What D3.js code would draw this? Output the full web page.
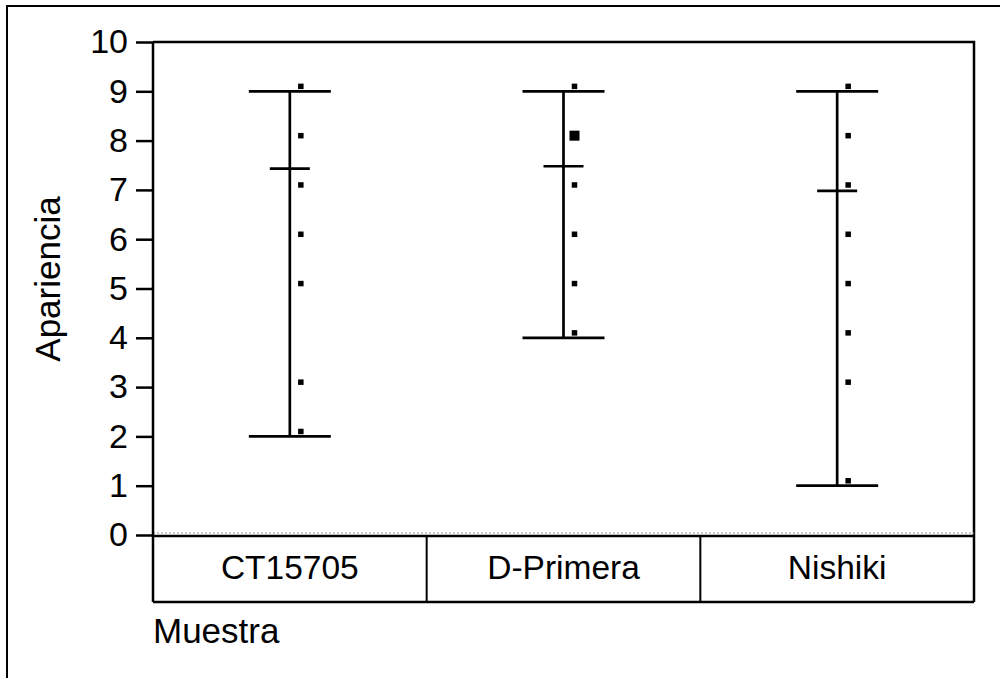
<!DOCTYPE html>
<html>
<head>
<meta charset="utf-8">
<script src="https://cdn.jsdelivr.net/npm/d3@7/dist/d3.min.js"></script>
<style>
  html, body { margin: 0; padding: 0; background: #fff; }
  svg { display: block; }
  text { font-family: "Liberation Sans", Arial, sans-serif; fill: #000; }
</style>
</head>
<body>
<svg id="chart" width="1000" height="678"></svg>
<script>
// Sample groups and their summary statistics
const categories = ["CT15705", "D-Primera", "Nishiki"];
const minValues  = [2, 4, 1];
const maxValues  = [9, 9, 9];
const meanValues = [7.43, 7.48, 6.98];

// Individual observations per group (value, number of coincident points)
const obsCT15705  = [9.1, 8.1, 7.1, 6.1, 5.1, 3.1, 2.1];
const cntCT15705  = [1, 1, 1, 1, 1, 1, 1];
const obsDPrimera = [9.1, 8.1, 7.1, 6.1, 5.1, 4.1];
const cntDPrimera = [1, 2, 1, 1, 1, 1];
const obsNishiki  = [9.1, 8.1, 7.1, 6.1, 5.1, 4.1, 3.1, 1.1];
const cntNishiki  = [1, 1, 1, 1, 1, 1, 1, 1];

const yTicks = [0, 1, 2, 3, 4, 5, 6, 7, 8, 9, 10];
const xTitle = "Muestra";
const yTitle = "Apariencia";

const observations = [obsCT15705, obsDPrimera, obsNishiki];
const counts = [cntCT15705, cntDPrimera, cntNishiki];

const svg = d3.select("#chart");

// Outer frame
svg.append("rect")
  .attr("x", 7).attr("y", 6)
  .attr("width", 1020).attr("height", 700)
  .attr("fill", "none").attr("stroke", "#000").attr("stroke-width", 2);

const plotLeft = 153, plotRight = 974, plotTop = 42, plotBottom = 535, tableBottom = 602;

const x = d3.scaleBand().domain(categories).range([plotLeft, plotRight]).padding(0);
const y = d3.scaleLinear().domain([0, 10]).range([plotBottom, plotTop]);
const size = d3.scaleLinear().domain([1, 2]).range([5.5, 10]);

// Plot frame (top and right)
svg.append("path")
  .attr("d", `M${plotLeft},${plotTop}H${plotRight}V${tableBottom}`)
  .attr("fill", "none").attr("stroke", "#000").attr("stroke-width", 2.5);

// Dotted reference line at zero
svg.append("line")
  .attr("x1", plotLeft).attr("x2", plotRight)
  .attr("y1", y(0) - 2).attr("y2", y(0) - 2)
  .attr("stroke", "#999").attr("stroke-width", 1.2)
  .attr("stroke-dasharray", "2,2");

// Category table
svg.append("line")
  .attr("x1", plotLeft).attr("x2", plotRight)
  .attr("y1", y(0) + 1).attr("y2", y(0) + 1)
  .attr("stroke", "#000").attr("stroke-width", 2.5);
svg.append("line")
  .attr("x1", plotLeft).attr("x2", plotRight)
  .attr("y1", tableBottom).attr("y2", tableBottom)
  .attr("stroke", "#000").attr("stroke-width", 2.5);
svg.selectAll("line.divider")
  .data(categories.slice(1))
  .enter().append("line")
  .attr("class", "divider")
  .attr("x1", d => x(d)).attr("x2", d => x(d))
  .attr("y1", y(0)).attr("y2", tableBottom)
  .attr("stroke", "#000").attr("stroke-width", 2);
svg.selectAll("text.cat")
  .data(categories)
  .enter().append("text")
  .attr("class", "cat")
  .attr("x", d => x(d) + x.bandwidth() / 2)
  .attr("y", 579)
  .attr("text-anchor", "middle")
  .attr("font-size", 33.5)
  .text(d => d);

// Y axis
const yAxis = d3.axisLeft(y).tickValues(yTicks).tickSize(17).tickPadding(8).tickFormat(d3.format("d"));
const gy = svg.append("g").attr("transform", `translate(${plotLeft},0)`).call(yAxis);
gy.select(".domain").attr("stroke", "#000").attr("stroke-width", 2.5)
  .attr("d", `M0,${plotTop}V${tableBottom}`);
gy.selectAll(".tick line").attr("stroke", "#000").attr("stroke-width", 2.5);
gy.selectAll(".tick text")
  .attr("font-size", 34)
  .attr("font-family", "'Liberation Sans', Arial, sans-serif")
  .attr("fill", "#000");

// Axis titles
svg.append("text")
  .attr("x", plotLeft).attr("y", 643)
  .attr("font-size", 35)
  .text(xTitle);
svg.append("text")
  .attr("transform", `translate(60,279) rotate(-90)`)
  .attr("text-anchor", "middle")
  .attr("font-size", 35)
  .text(yTitle);

// Range bars with min/max caps and mean tick
const groups = svg.selectAll("g.grp")
  .data(categories.map((c, i) => ({ c, i })))
  .enter().append("g").attr("class", "grp");

groups.each(function (d) {
  const g = d3.select(this);
  const cx = x(d.c) + x.bandwidth() / 2;
  const sw = 2.7;
  g.append("line")
    .attr("x1", cx).attr("x2", cx)
    .attr("y1", y(minValues[d.i])).attr("y2", y(maxValues[d.i]))
    .attr("stroke", "#000").attr("stroke-width", sw);
  [minValues[d.i], maxValues[d.i]].forEach(v => {
    g.append("line")
      .attr("x1", cx - 41).attr("x2", cx + 41)
      .attr("y1", y(v)).attr("y2", y(v))
      .attr("stroke", "#000").attr("stroke-width", sw);
  });
  g.append("line")
    .attr("x1", cx - 20).attr("x2", cx + 20)
    .attr("y1", y(meanValues[d.i])).attr("y2", y(meanValues[d.i]))
    .attr("stroke", "#000").attr("stroke-width", sw);

  const pts = observations[d.i].map((v, k) => ({ v, n: counts[d.i][k] }));
  g.selectAll("rect.pt")
    .data(pts)
    .enter().append("rect")
    .attr("class", "pt")
    .attr("x", p => cx + 11 - size(p.n) / 2)
    .attr("y", p => y(p.v) - size(p.n) / 2)
    .attr("width", p => size(p.n))
    .attr("height", p => size(p.n))
    .attr("fill", "#000");
});
</script>
</body>
</html>
